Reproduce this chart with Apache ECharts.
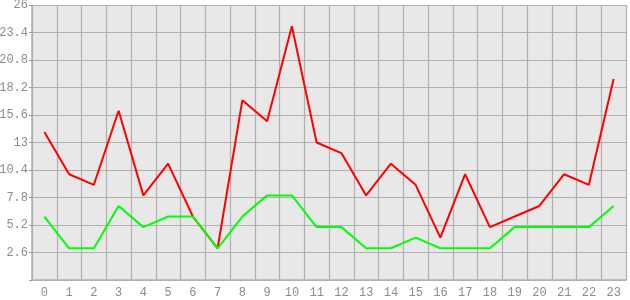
<!DOCTYPE html>
<html><head><meta charset="utf-8">
<script src="https://cdn.jsdelivr.net/npm/echarts@6/dist/echarts.min.js"></script>
<style>html,body{margin:0;padding:0;background:#fff}#c{width:630px;height:300px}</style>
</head><body><div id="c"></div>
<script>
const categories = ['0','1','2','3','4','5','6','7','8','9','10','11','12','13','14','15','16','17','18','19','20','21','22','23'];
const redValues = [14,10,9,16,8,11,6,3,17,15,24,13,12,8,11,9,4,10,5,6,7,10,9,19];
const greenValues = [6,3,3,7,5,6,6,3,6,8,8,5,5,3,3,4,3,3,3,5,5,5,5,7];
const yTicks = [0,2.6,5.2,7.8,10.4,13,15.6,18.2,20.8,23.4,26];

const chart = echarts.init(document.getElementById('c'), null, {renderer:'canvas'});
const gridColor = '#b0b0b0';
const font = {fontFamily:'Liberation Mono', fontSize:12, color:'#8c8c8c'};
chart.setOption({
  animation:false,
  grid:{left:32,right:4,top:5,bottom:20,show:true,backgroundColor:'#e8e8e8',borderWidth:0,containLabel:false,outerBoundsMode:'none'},
  xAxis:{type:'category',data:categories,boundaryGap:true,
    axisLine:{lineStyle:{color:gridColor,width:1.5}},
    axisTick:{alignWithLabel:true,length:5,lineStyle:{color:'#999',width:1}},
    axisLabel:Object.assign({margin:7,interval:0},font),
    splitLine:{show:true,interval:0,lineStyle:{color:gridColor,width:1.2}}},
  yAxis:{type:'value',min:yTicks[0],max:yTicks[yTicks.length-1],interval:2.6,
    axisLine:{show:true,lineStyle:{color:gridColor,width:1.5}},
    axisTick:{show:true,length:3,lineStyle:{color:'#999'}},
    axisLabel:Object.assign({margin:4,formatter:function(v){const r=Math.round(v*10)/10;return r===0?'':String(r);}},font),
    splitLine:{show:true,lineStyle:{color:gridColor,width:1.2}}},
  series:[
    {type:'line',data:redValues,showSymbol:false,symbol:'none',lineStyle:{color:'#ff0000',width:2},itemStyle:{color:'#ff0000'}},
    {type:'line',data:greenValues,showSymbol:false,symbol:'none',lineStyle:{color:'#00ff00',width:2},itemStyle:{color:'#00ff00'}}
  ]
});
</script></body></html>
